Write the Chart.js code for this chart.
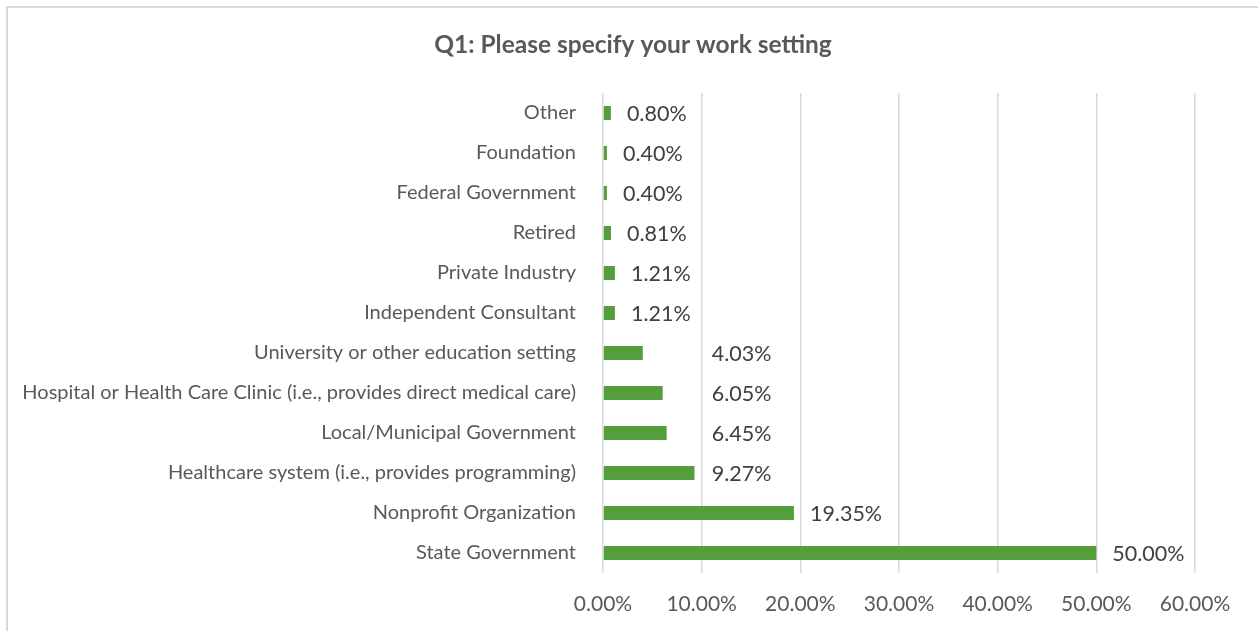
<!DOCTYPE html>
<html>
<head>
<meta charset="utf-8">
<script src="https://cdn.jsdelivr.net/npm/chart.js@4.4.1/dist/chart.umd.min.js"></script>
<style>
  html, body { margin: 0; padding: 0; background: #ffffff; overflow: hidden; }
  #wrap { position: relative; width: 1258px; height: 631px; }
  #frame { position: absolute; left: 6px; top: 6px; width: 1300px; height: 700px; border: 2px solid #d9d9d9; box-sizing: border-box; pointer-events: none; }
  canvas { position: absolute; left: 0; top: 0; }
</style>
</head>
<body>
<div id="wrap">
  <canvas id="c" width="1258" height="631"></canvas>
  <div id="frame"></div>
</div>
<script>
const categories = [
  "Other",
  "Foundation",
  "Federal Government",
  "Retired",
  "Private Industry",
  "Independent Consultant",
  "University or other education setting",
  "Hospital or Health Care Clinic (i.e., provides direct medical care)",
  "Local/Municipal Government",
  "Healthcare system (i.e., provides programming)",
  "Nonprofit Organization",
  "State Government"
];
const percentages = [0.80, 0.40, 0.40, 0.81, 1.21, 1.21, 4.03, 6.05, 6.45, 9.27, 19.35, 50.00];
const axisTicks = [0, 10, 20, 30, 40, 50, 60];
const chartTitle = "Q1: Please specify your work setting";

const FONT = "Lato, 'Open Sans', sans-serif";

const valueLabels = {
  id: 'valueLabels',
  afterDatasetsDraw(chart) {
    const ctx = chart.ctx;
    const meta = chart.getDatasetMeta(0);
    const xs = chart.scales.x;
    ctx.save();
    ctx.font = "21.5px " + FONT;
    ctx.fillStyle = "#404040";
    ctx.textBaseline = "middle";
    ctx.textAlign = "left";
    meta.data.forEach((bar, i) => {
      const v = percentages[i];
      let x = bar.x + 16;
      if (v > 3 && v < 10) x = xs.getPixelForValue(10) + 10;
      ctx.fillText(v.toFixed(2) + "%", x, bar.y + 1);
    });
    ctx.restore();
  }
};

new Chart(document.getElementById('c'), {
  type: 'bar',
  data: {
    labels: categories,
    datasets: [{
      data: percentages,
      backgroundColor: '#559e3c',
      borderWidth: 0,
      barPercentage: 0.35,
      categoryPercentage: 1.0
    }]
  },
  plugins: [valueLabels],
  options: {
    indexAxis: 'y',
    responsive: false,
    animation: false,
    devicePixelRatio: 1,
    layout: { padding: { left: 8, right: 0, top: 0, bottom: 0 } },
    plugins: {
      legend: { display: false },
      tooltip: { enabled: false },
      title: {
        display: true,
        text: chartTitle,
        color: '#595959',
        font: { family: FONT, size: 24.5, weight: 'bold', lineHeight: 1.2 },
        padding: { top: 30, bottom: 33.6 }
      }
    },
    scales: {
      x: {
        min: 0,
        max: 60,
        afterBuildTicks(scale) { scale.ticks = axisTicks.map(v => ({ value: v })); },
        afterFit(scale) { scale.height = 58; },
        grid: { color: '#d9d9d9', lineWidth: 1.5, drawTicks: false },
        border: { display: false },
        ticks: {
          padding: 19,
          color: '#595959',
          font: { family: FONT, size: 21 },
          callback: v => Number(v).toFixed(2) + '%'
        }
      },
      y: {
        afterFit(scale) { scale.width = 595; },
        grid: { display: false, drawTicks: false },
        border: { display: false },
        ticks: {
          padding: 27,
          color: '#595959',
          font: { family: FONT, size: 20 },
          autoSkip: false
        }
      },
      yRight: {
        type: 'linear',
        position: 'right',
        display: true,
        afterFit(scale) { scale.width = 63; },
        grid: { display: false, drawTicks: false },
        border: { display: false },
        ticks: { display: false }
      }
    }
  }
});
</script>
</body>
</html>
